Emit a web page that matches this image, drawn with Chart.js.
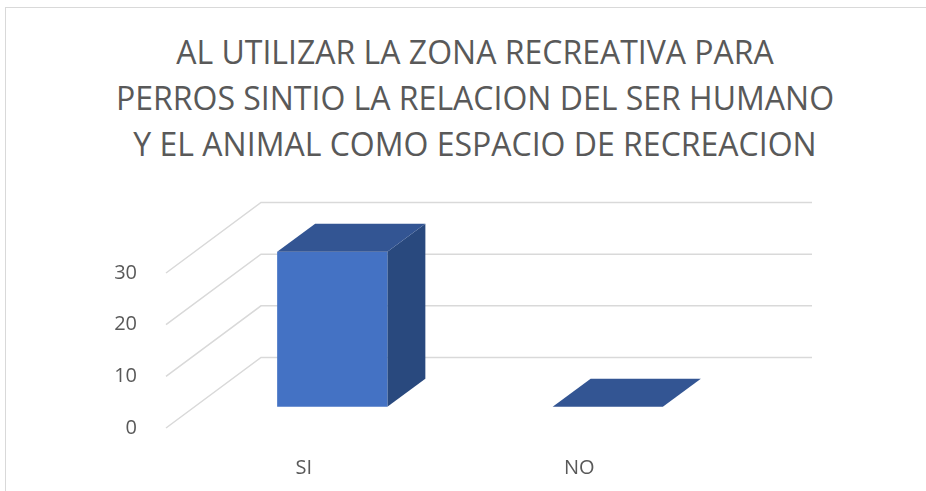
<!DOCTYPE html>
<html lang="es">
<head>
<meta charset="utf-8">
<title>Zona recreativa para perros</title>
<script src="https://cdn.jsdelivr.net/npm/chart.js@4.4.0/dist/chart.umd.min.js"></script>
<style>
    html, body { margin: 0; padding: 0; background: #fff; }
    #wrap { position: relative; width: 926px; height: 491px; overflow: hidden; }
    #marco { position: absolute; left: 5px; top: 7px; width: 1000px; height: 1000px; border: 1px solid #d9d9d9; }
    #titulo {
        position: absolute; left: 0; top: 29px; width: 950px;
        text-align: center; font-family: "Open Sans", sans-serif;
        font-size: 32px; line-height: 46px; color: #595959;
    }
    canvas { position: absolute; left: 0; top: 0; }
</style>
</head>
<body>
<div id="wrap">
    <div id="marco"></div>
    <div id="titulo">AL UTILIZAR LA ZONA RECREATIVA PARA<br>PERROS SINTIO LA RELACION DEL SER HUMANO<br>Y EL ANIMAL COMO ESPACIO DE RECREACION</div>
    <canvas id="grafica" width="926" height="491"></canvas>
</div>
<script>
// --- Datos ---
const categorias = ['SI', 'NO'];
const respuestas = [30, 0];
const ticksY = [0, 10, 20, 30];

// --- Geometria 3D (en pixeles / fracciones) ---
const PROF_X = 95;      // desplazamiento horizontal hacia el fondo
const PROF_Y = 70.5;    // desplazamiento vertical hacia el fondo
const FONDO_INI = 0.3;  // la barra empieza a esta profundidad
const FONDO_FIN = 0.7;  // y termina aqui
const ANCHO_BARRA = 0.4; // fraccion de la categoria

const COLOR_FRENTE = '#4472c4';
const COLOR_TAPA = '#335593';
const COLOR_LADO = '#29497e';

function poligono(ctx, puntos, color) {
    ctx.beginPath();
    ctx.moveTo(puntos[0][0], puntos[0][1]);
    puntos.slice(1).forEach(p => ctx.lineTo(p[0], p[1]));
    ctx.closePath();
    ctx.fillStyle = color;
    ctx.fill();
}

const barras3D = {
    id: 'barras3D',
    // lineas de la pared y el piso (tipo Excel)
    beforeDatasetsDraw(chart) {
        const { ctx, scales: { x, y } } = chart;
        ctx.save();
        ctx.strokeStyle = '#d9d9d9';
        ctx.lineWidth = 1.5;
        y.ticks.forEach(t => {
            const py = y.getPixelForValue(t.value);
            ctx.beginPath();
            ctx.moveTo(x.left, py);
            ctx.lineTo(x.left + PROF_X, py - PROF_Y);
            ctx.lineTo(x.right + PROF_X, py - PROF_Y);
            ctx.stroke();
        });
        ctx.restore();
    },
    afterDatasetsDraw(chart) {
        const { ctx, scales: { x, y } } = chart;
        const ancho = x.width / categorias.length * ANCHO_BARRA;
        const dx = PROF_X * (FONDO_FIN - FONDO_INI);
        const dy = PROF_Y * (FONDO_FIN - FONDO_INI);
        ctx.save();
        respuestas.forEach((v, i) => {
            const x0 = x.getPixelForValue(i) - ancho / 2 + PROF_X * FONDO_INI;
            const x1 = x0 + ancho;
            const yb = y.getPixelForValue(0) - PROF_Y * FONDO_INI;
            const yt = y.getPixelForValue(v) - PROF_Y * FONDO_INI;
            if (yb - yt > 0.5) {
                poligono(ctx, [[x1, yb], [x1 + dx, yb - dy], [x1 + dx, yt - dy], [x1, yt]], COLOR_LADO);
                poligono(ctx, [[x0, yb], [x1, yb], [x1, yt], [x0, yt]], COLOR_FRENTE);
            }
            poligono(ctx, [[x0, yt], [x0 + dx, yt - dy], [x1 + dx, yt - dy], [x1, yt]], COLOR_TAPA);
        });
        ctx.restore();
    }
};

new Chart(document.getElementById('grafica'), {
    type: 'bar',
    data: {
        labels: categorias,
        datasets: [{
            label: 'Respuestas',
            data: respuestas,
            backgroundColor: 'rgba(0,0,0,0)'
        }]
    },
    options: {
        responsive: false,
        animation: false,
        layout: { padding: { top: 273, right: 209, left: 0, bottom: 0 } },
        plugins: {
            legend: { display: false },
            tooltip: { enabled: false }
        },
        scales: {
            x: {
                grid: { display: false },
                border: { display: false },
                ticks: { color: '#595959', padding: 20, font: { family: 'Open Sans', size: 20 } },
                afterFit: (axis) => { axis.height = 63; }
            },
            y: {
                min: 0,
                max: 30,
                grid: { display: false },
                border: { display: false },
                ticks: { color: '#595959', padding: 21, font: { family: 'Open Sans', size: 20 } },
                afterBuildTicks: (axis) => { axis.ticks = ticksY.map(v => ({ value: v })); },
                afterFit: (axis) => { axis.width = 166; }
            }
        }
    },
    plugins: [barras3D]
});
</script>
</body>
</html>
